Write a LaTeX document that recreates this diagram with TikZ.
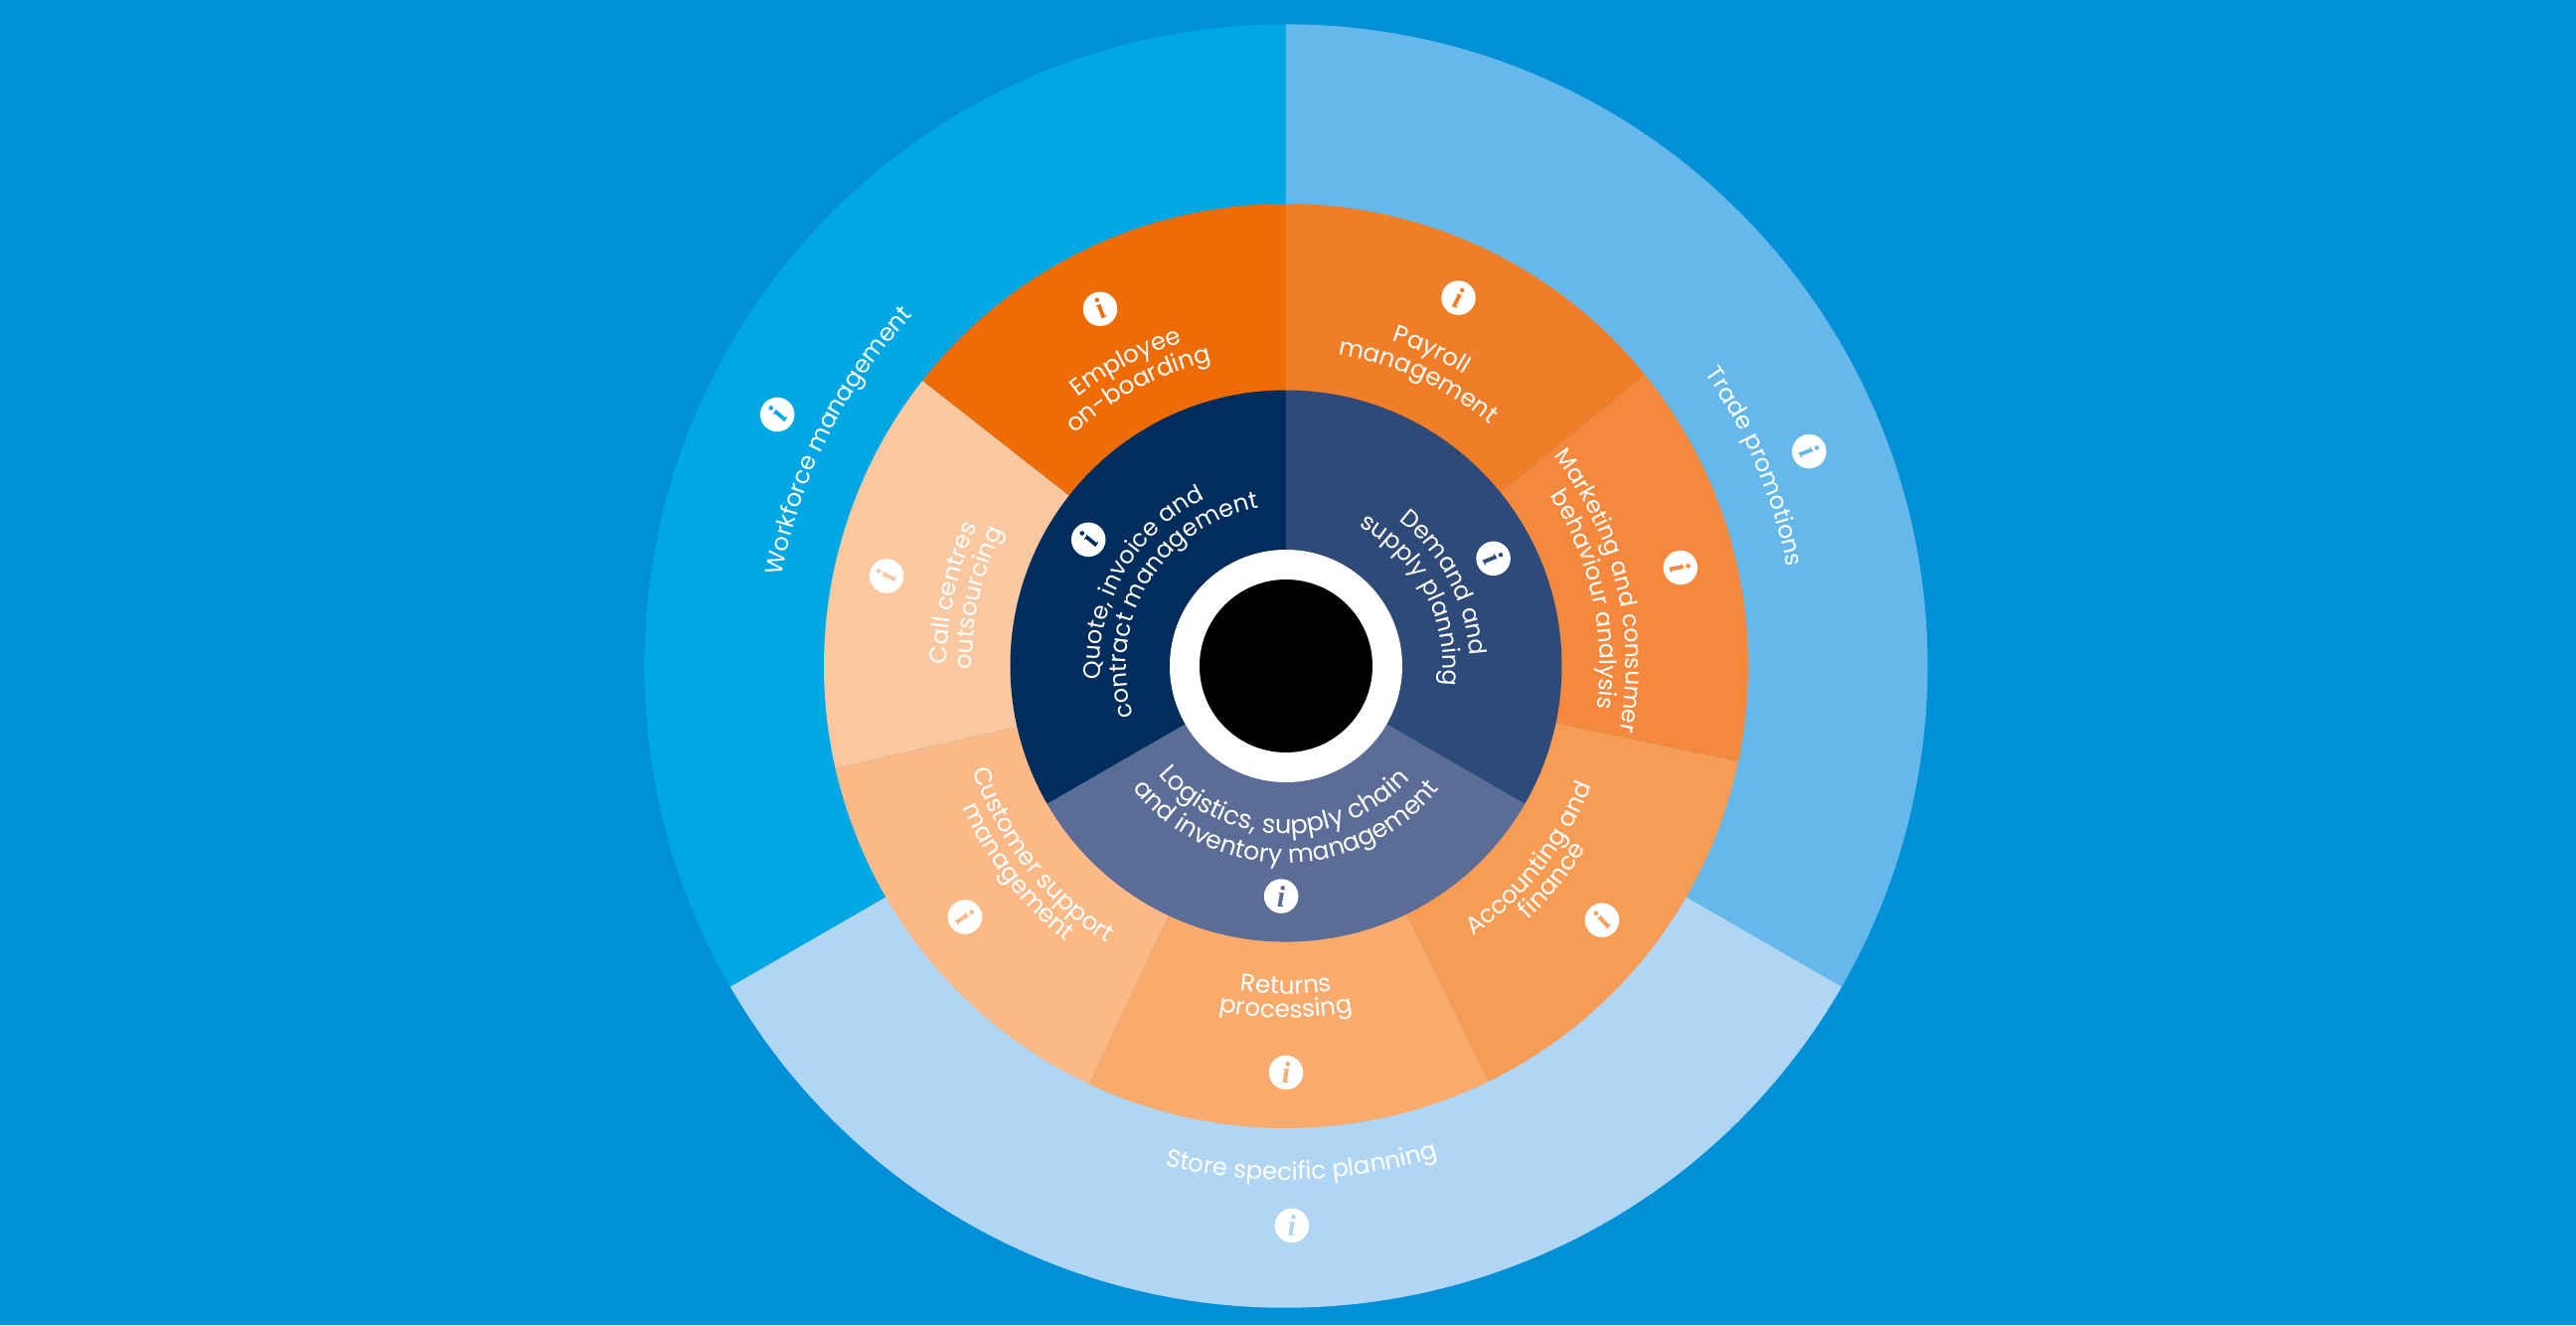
\documentclass[tikz,border=0pt]{standalone}
\usepackage{fontspec}
\setmainfont{Poppins}
\newfontfamily\iconfont{Liberation Serif}
\usetikzlibrary{decorations.text}
\definecolor{bgblue}{HTML}{0090D7}
\definecolor{ringA}{HTML}{00A7E5}
\definecolor{ringB}{HTML}{66B8EA}
\definecolor{ringC}{HTML}{B0D6F3}
\definecolor{midA}{HTML}{EE6C06}
\definecolor{midB}{HTML}{F07D27}
\definecolor{midC}{HTML}{F4883C}
\definecolor{midD}{HTML}{F69C55}
\definecolor{midE}{HTML}{F9AB6E}
\definecolor{midF}{HTML}{FBB987}
\definecolor{midG}{HTML}{F9C8A0}
\definecolor{inA}{HTML}{002D5C}
\definecolor{inB}{HTML}{2E4A78}
\definecolor{inC}{HTML}{5B6D96}
% #1 colour, #2 start angle, #3 end angle, #4 outer radius, #5 inner radius
\newcommand{\wedgeseg}[5]{\fill[#1] (#2:#5) -- (#2:#4) arc[start angle=#2,end angle=#3,radius=#4] -- (#3:#5) arc[start angle=#3,end angle=#2,radius=#5] -- cycle;}
\newcommand{\arcsize}{7}
\newcommand{\arcfont}{\color{white}\fontsize{\arcsize}{8}\selectfont}
% clockwise text: #1 font size, #2 radius, #3 centre angle, #4 text
\newcommand{\cwtext}[4]{\renewcommand{\arcsize}{#1}\path[decorate,decoration={text along path,text align=center,text={|\arcfont|#4}}] ({#3+75}:#2) arc[start angle={#3+75},end angle={#3-75},radius=#2];}
% counter-clockwise text
\newcommand{\ccwtext}[4]{\renewcommand{\arcsize}{#1}\path[decorate,decoration={text along path,text align=center,text={|\arcfont|#4}}] ({#3-75}:#2) arc[start angle={#3-75},end angle={#3+75},radius=#2];}
\tikzset{infoicon/.style={circle,fill=white,minimum size=0.345cm,inner sep=0pt,font=\iconfont\bfseries\itshape\fontsize{8.6}{9}\selectfont}}
\begin{document}
\begin{tikzpicture}
\useasboundingbox (-12.94,-6.63) rectangle (12.98,6.70);
\fill[bgblue] (-12.94,-6.63) rectangle (12.98,6.70);
% outer ring
\wedgeseg{ringA}{90}{210}{6.456}{4.6}
\wedgeseg{ringB}{90}{-30}{6.456}{4.6}
\wedgeseg{ringC}{-30}{-150}{6.456}{4.6}
% middle ring
\wedgeseg{midA}{90}{141.9}{4.65}{2.7}
\wedgeseg{midG}{141.9}{192.8}{4.65}{2.7}
\wedgeseg{midF}{192.8}{244.8}{4.65}{2.7}
\wedgeseg{midE}{244.8}{296}{4.65}{2.7}
\wedgeseg{midD}{296}{348.1}{4.65}{2.7}
\wedgeseg{midC}{348.1}{399.1}{4.65}{2.7}
\wedgeseg{midB}{399.1}{450}{4.65}{2.7}
% inner ring
\wedgeseg{inA}{90}{210}{2.775}{1}
\wedgeseg{inB}{90}{-30}{2.775}{1}
\wedgeseg{inC}{-30}{-150}{2.775}{1}
\fill[white] (0,0) circle[radius=1.17];
\fill[black] (0,0) circle[radius=0.87];
% outer labels
\cwtext{6.87}{5.15}{153.3}{Workforce management}
\cwtext{6.8}{5.14}{23}{Trade promotions}
\ccwtext{6.95}{5.17}{-88.2}{Store specific planning}
% middle labels
\cwtext{6.9}{3.42}{117.8}{Employee}
\cwtext{7}{3.16}{118}{on-boarding}
\cwtext{6.9}{3.44}{65.2}{Payroll}
\cwtext{6.95}{3.18}{65.2}{management}
\cwtext{6.65}{3.42}{13.5}{Marketing and consumer}
\cwtext{6.75}{3.16}{12.5}{behaviour analysis}
\cwtext{6.85}{3.41}{167.7}{Call centres}
\cwtext{6.85}{3.16}{167.6}{outsourcing}
\ccwtext{6.95}{3.30}{-38.3}{Accounting and}
\ccwtext{7}{3.53}{-38.8}{finance}
\ccwtext{7}{3.30}{-90}{Returns}
\ccwtext{7}{3.54}{-90}{processing}
\ccwtext{7}{3.32}{217.8}{Customer support}
\ccwtext{7}{3.55}{217.5}{management}
% inner labels
\cwtext{6.8}{1.87}{150}{Quote, invoice and}
\cwtext{6.85}{1.61}{149}{contract management}
\cwtext{6.85}{1.85}{27.7}{Demand and}
\cwtext{6.8}{1.58}{27.7}{supply planning}
\ccwtext{7.35}{1.69}{-91}{Logistics, supply chain}
\ccwtext{7.15}{1.98}{-90}{and inventory management}
% info icons
\node[infoicon,text=ringA,rotate=60] (i1) at (153.7:5.71) {i};
\node[infoicon,text=ringB,rotate=-59] (i2) at (22.3:5.69) {i};
\node[infoicon,text=ringC] (i3) at (-89.4:5.63) {i};
\node[infoicon,text=midA,rotate=30] (i4) at (117.5:4.05) {i};
\node[infoicon,text=midB,rotate=-17] (i5) at (64.9:4.09) {i};
\node[infoicon,text=midC,rotate=-70] (i6) at (14:4.09) {i};
\node[infoicon,text=midD,rotate=52] (i7) at (-38.8:4.08) {i};
\node[infoicon,text=midE] (i8) at (-90:4.09) {i};
\node[infoicon,text=midF,rotate=-47] (i9) at (218:4.10) {i};
\node[infoicon,text=midG,rotate=72] (i10) at (167.3:4.12) {i};
\node[infoicon,text=inA,rotate=60] (i11) at (147.4:2.36) {i};
\node[infoicon,text=inB,rotate=-58] (i12) at (27.4:2.35) {i};
\node[infoicon,text=inC] (i13) at (-91.2:2.316) {i};
\end{tikzpicture}
\end{document}
